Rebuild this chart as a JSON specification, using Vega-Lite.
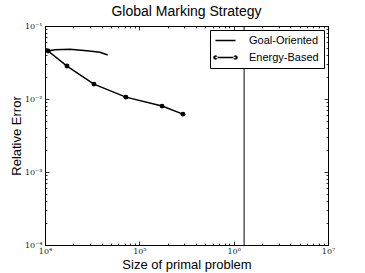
{
  "$schema": "https://vega.github.io/schema/vega-lite/v6.json",
  "width": 283,
  "height": 219,
  "autosize": "none",
  "padding": {"left": 45, "top": 26, "right": 37, "bottom": 28},
  "title": {"text": "Global Marking Strategy", "fontSize": 14, "font": "Liberation Sans", "fontWeight": "normal", "color": "black", "offset": 3},
  "datasets": {
    "curves": [
      {"series": "Goal-Oriented", "size": 10800, "err": 0.0455},
      {"series": "Goal-Oriented", "size": 12800, "err": 0.0473},
      {"series": "Goal-Oriented", "size": 18400, "err": 0.0482},
      {"series": "Goal-Oriented", "size": 27700, "err": 0.0459},
      {"series": "Goal-Oriented", "size": 38300, "err": 0.0436},
      {"series": "Goal-Oriented", "size": 46200, "err": 0.0401},
      {"series": "Energy-Based", "size": 10800, "err": 0.0455},
      {"series": "Energy-Based", "size": 17100, "err": 0.0283},
      {"series": "Energy-Based", "size": 33000, "err": 0.016},
      {"series": "Energy-Based", "size": 72000, "err": 0.0106},
      {"series": "Energy-Based", "size": 174000, "err": 0.008},
      {"series": "Energy-Based", "size": 290000, "err": 0.0062}
    ],
    "vline": [{"size": 1290000}]
  },
  "layer": [
    {
      "data": {"name": "curves"},
      "mark": {"type": "line", "color": "black", "strokeWidth": 1.5},
      "encoding": {
        "x": {"field": "size", "type": "quantitative", "scale": {"type": "log", "domain": [10000, 10000000], "nice": false},
          "axis": {"orient": "bottom", "title": "Size of primal problem", "titlePadding": 1, "labelPadding": 6,
            "values": [10000,20000,30000,40000,50000,60000,70000,80000,90000,100000,200000,300000,400000,500000,600000,700000,800000,900000,1000000,2000000,3000000,4000000,5000000,6000000,7000000,8000000,9000000,10000000],
            "labelExpr": "datum.value == 10000 ? '10⁴' : datum.value == 100000 ? '10⁵' : datum.value == 1000000 ? '10⁶' : datum.value == 10000000 ? '10⁷' : ''",
            "tickSize": {"condition": {"test": "indexof([10000,100000,1000000,10000000], datum.value) >= 0", "value": -4}, "value": -2}}},
        "y": {"field": "err", "type": "quantitative", "scale": {"type": "log", "domain": [0.0001, 0.1], "nice": false},
          "axis": {"orient": "left", "title": "Relative Error", "titlePadding": 1, "labelPadding": 7,
            "values": [0.0001,0.0002,0.0003,0.0004,0.0005,0.0006,0.0007,0.0008,0.0009,0.001,0.002,0.003,0.004,0.005,0.006,0.007,0.008,0.009,0.01,0.02,0.03,0.04,0.05,0.06,0.07,0.08,0.09,0.1],
            "labelExpr": "datum.value == 0.0001 ? '10⁻⁴' : datum.value == 0.001 ? '10⁻³' : datum.value == 0.01 ? '10⁻²' : datum.value == 0.1 ? '10⁻¹' : ''",
            "tickSize": {"condition": {"test": "indexof([0.0001,0.001,0.01,0.1], datum.value) >= 0", "value": -4}, "value": -2}}},
        "detail": {"field": "series"}
      }
    },
    {
      "data": {"name": "curves"},
      "transform": [{"filter": "datum.series == 'Energy-Based'"}],
      "mark": {"type": "point", "filled": true, "color": "black", "size": 24, "opacity": 1},
      "encoding": {
        "x": {"field": "size", "type": "quantitative", "axis": null},
        "y": {"field": "err", "type": "quantitative", "axis": null}
      }
    },
    {
      "data": {"name": "vline"},
      "mark": {"type": "rule", "color": "black", "strokeWidth": 1},
      "encoding": {
        "x": {"field": "size", "type": "quantitative", "axis": null}
      }
    },
    {
      "data": {"name": "curves"},
      "mark": {"type": "point", "opacity": 0, "filled": true, "color": "black"},
      "encoding": {
        "x": {"field": "size", "type": "quantitative",
          "axis": {"orient": "top", "title": null, "labels": false,
            "values": [10000,20000,30000,40000,50000,60000,70000,80000,90000,100000,200000,300000,400000,500000,600000,700000,800000,900000,1000000,2000000,3000000,4000000,5000000,6000000,7000000,8000000,9000000,10000000],
            "tickSize": {"condition": {"test": "indexof([10000,100000,1000000,10000000], datum.value) >= 0", "value": -4}, "value": -2}}},
        "y": {"field": "err", "type": "quantitative",
          "axis": {"orient": "right", "title": null, "labels": false,
            "values": [0.0001,0.0002,0.0003,0.0004,0.0005,0.0006,0.0007,0.0008,0.0009,0.001,0.002,0.003,0.004,0.005,0.006,0.007,0.008,0.009,0.01,0.02,0.03,0.04,0.05,0.06,0.07,0.08,0.09,0.1],
            "tickSize": {"condition": {"test": "indexof([0.0001,0.001,0.01,0.1], datum.value) >= 0", "value": -4}, "value": -2}}},
        "shape": {"field": "series", "type": "nominal",
          "scale": {"domain": ["Goal-Oriented", "Energy-Based"],
            "range": ["M-1,-0.15H3V0.15H-1Z", "M-1,-0.15H3V0.15H-1ZM-1.45,0A0.45,0.45,0,1,0,-0.55,0A0.45,0.45,0,1,0,-1.45,0ZM2.55,0A0.45,0.45,0,1,0,3.45,0A0.45,0.45,0,1,0,2.55,0Z"]},
          "legend": {"title": null, "orient": "top-right", "offset": 4, "padding": 5, "strokeColor": "black", "fillColor": "white",
            "symbolSize": 100, "symbolOpacity": 1, "symbolFillColor": "black", "symbolStrokeColor": "black", "symbolStrokeWidth": 0,
            "labelFont": "Liberation Sans", "labelFontSize": 11, "labelColor": "black", "rowPadding": 5, "labelOffset": 23, "cornerRadius": 0}}
      }
    }
  ],
  "resolve": {"axis": {"x": "independent", "y": "independent"}},
  "config": {
    "view": {"stroke": "black", "strokeWidth": 1},
    "axis": {
      "grid": false,
      "domainColor": "black",
      "domainWidth": 1,
      "tickColor": "black",
      "tickWidth": 0.8,
      "labelFont": "DejaVu Serif",
      "labelFontSize": 8,
      "labelColor": "#222",
      "labelFlush": false,
      "labelOverlap": false,
      "titleFont": "Liberation Sans",
      "titleFontSize": 13,
      "titleFontWeight": "normal",
      "titleColor": "black"
    }
  }
}
